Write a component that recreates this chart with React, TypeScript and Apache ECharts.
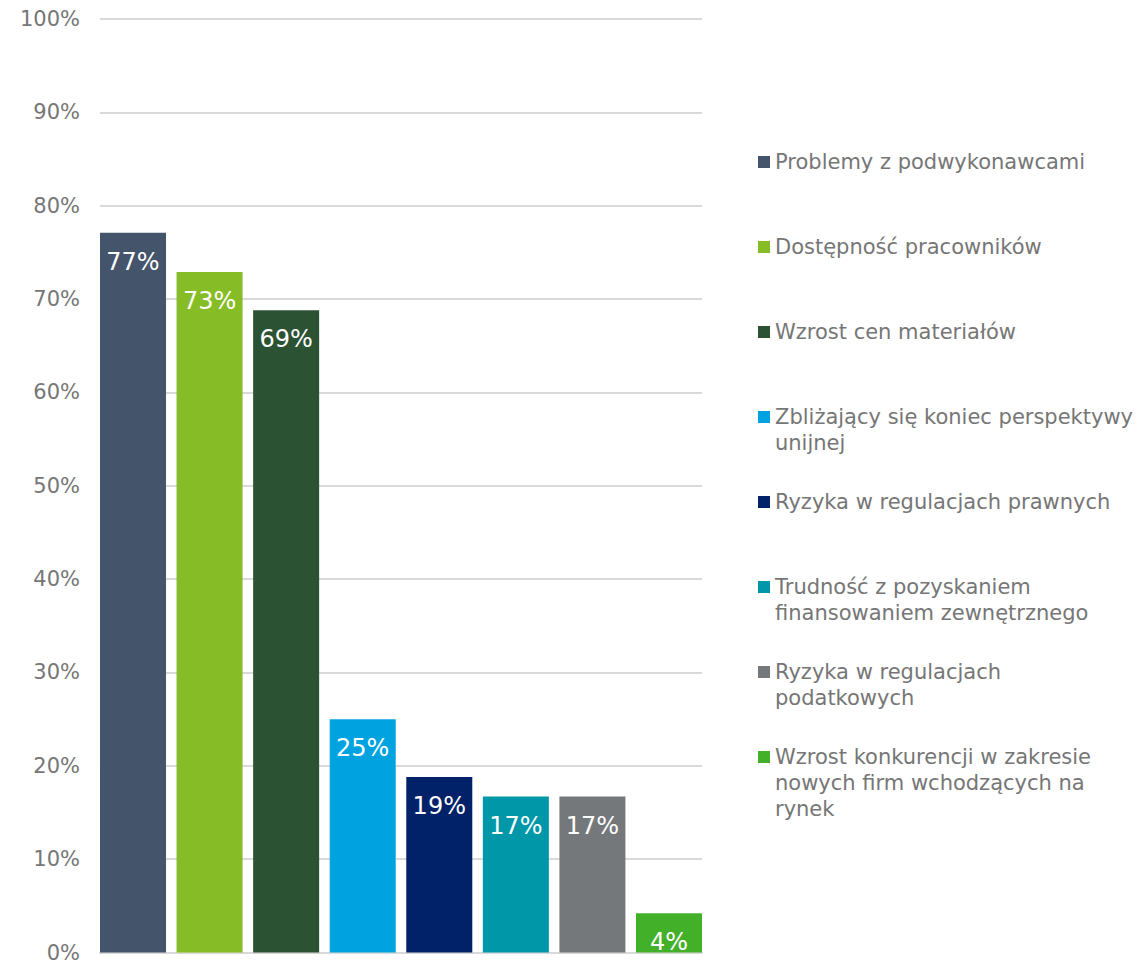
import React, { useEffect, useRef } from "react";
import * as echarts from "echarts";

const categories: string[] = [""];
const seriesNames: string[] = [
  "Problemy z podwykonawcami",
  "Dostępność pracowników",
  "Wzrost cen materiałów",
  "Zbliżający się koniec perspektywy\nunijnej",
  "Ryzyka w regulacjach prawnych",
  "Trudność z pozyskaniem\nfinansowaniem zewnętrznego",
  "Ryzyka w regulacjach\npodatkowych",
  "Wzrost konkurencji w zakresie\nnowych firm wchodzących na\nrynek",
];
const seriesValues: number[] = [77.1, 72.9, 68.8, 25.0, 18.8, 16.7, 16.7, 4.2];
const seriesColors: string[] = [
  "#44546A",
  "#86BC25",
  "#2C5234",
  "#00A3E0",
  "#012169",
  "#0097A9",
  "#75787B",
  "#43B02A",
];
const yTicks: number[] = [0, 10, 20, 30, 40, 50, 60, 70, 80, 90, 100];

const FONT = "'DejaVu Sans', Verdana, sans-serif";
const TEXT_GRAY = "#767676";
const LINE_H = 26;

export default function App() {
  const ref = useRef<HTMLDivElement>(null);

  useEffect(() => {
    document.body.style.margin = "0";
    if (!ref.current) return;
    const chart = echarts.init(ref.current, undefined, { renderer: "svg" });

    const legends = seriesNames.map((name, i) => {
      const n = name.split("\n").length;
      const centerY = 162 + 85 * i;
      return {
        data: [name],
        orient: "vertical",
        left: 758,
        top: centerY - (2 * n - 1) * (LINE_H / 2),
        padding: 0,
        itemWidth: 12,
        itemHeight: 12,
        icon: "rect",
        formatter: (nm: string) => "\n".repeat(n - 1) + nm,
        textStyle: {
          color: TEXT_GRAY,
          fontSize: 21,
          fontFamily: FONT,
          lineHeight: LINE_H,
        },
      };
    });

    const series = seriesNames.map((name, i) => ({
      type: "bar",
      name,
      data: [seriesValues[i]],
      itemStyle: { color: seriesColors[i] },
      barGap: "16%",
      barCategoryGap: 0,
      label: {
        show: true,
        position: "insideTop",
        distance: 17,
        color: "#ffffff",
        fontSize: 24,
        fontFamily: FONT,
        formatter: (p: any) => Math.round(p.value) + "%",
      },
    }));

    chart.setOption({
      animation: false,
      backgroundColor: "#ffffff",
      grid: { left: 100, top: 19, width: 602, height: 935, containLabel: false },
      legend: legends,
      xAxis: {
        type: "category",
        data: categories,
        axisLine: { show: true, lineStyle: { color: "#d9d9d9", width: 2 } },
        axisTick: { show: false },
        axisLabel: { show: false },
      },
      yAxis: {
        type: "value",
        min: yTicks[0],
        max: yTicks[yTicks.length - 1],
        interval: 10,
        axisLine: { show: false },
        axisTick: { show: false },
        splitLine: { lineStyle: { color: "#d9d9d9", width: 2 } },
        axisLabel: {
          color: TEXT_GRAY,
          fontSize: 21,
          fontFamily: FONT,
          margin: 20,
          formatter: "{value}%",
        },
      },
      series,
    });

    return () => chart.dispose();
  }, []);

  return <div ref={ref} style={{ width: 1142, height: 963 }} />;
}
